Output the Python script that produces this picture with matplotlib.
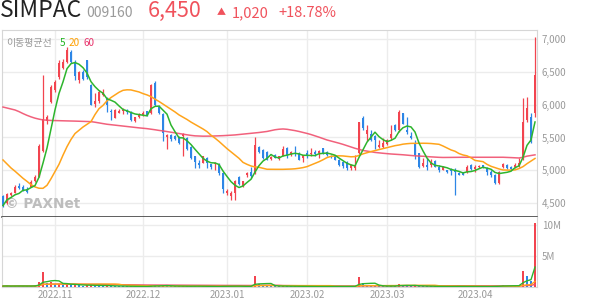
"""SIMPAC daily candles with moving averages and volume."""
import matplotlib
matplotlib.use('Agg')
import matplotlib.pyplot as plt
import numpy as np
import pandas as pd

plt.rcParams['font.family'] = ['Noto Sans CJK KR', 'DejaVu Sans']

# daily OHLC (won), Oct 13 2022 .. Apr 24 2023
opens = [4600, 4500, 4620, 4660, 4760, 4750, 4720, 4750, 4830, 4902,
         5300, 5750, 6048, 6226, 6430, 6560, 6660, 6800, 6640, 6380,
         6500, 6680, 6300, 6010, 6050, 6150, 6100, 5910, 5800, 5880,
         5900, 5920, 5890, 5745, 5810, 5850, 5900, 5870, 6330, 5970,
         5860, 5500, 5540, 5530, 5500, 5520, 5490, 5360, 5210, 5110,
         5115, 5190, 5095, 5090, 5100, 4965, 4655, 4600, 4660, 4900,
         4760, 4920, 4970, 4980, 5360, 5310, 5280, 5170, 5230, 5170,
         5220, 5335, 5230, 5270, 5270, 5180, 5270, 5250, 5285, 5270,
         5335, 5285, 5220, 5230, 5160, 5130, 5130, 5030, 5030, 5260,
         5790, 5560, 5560, 5520, 5350, 5360, 5400, 5490, 5690, 5615,
         5870, 5620, 5520, 5410, 5260, 5065, 5080, 5080, 5145, 5045,
         5010, 5000, 5020, 5005, 4960, 4960, 4980, 5080, 5014, 5045,
         5080, 5030, 4980, 4928, 4800, 5055, 5081, 5055, 5045, 5065,
         5182, 5768, 5808, 5870]
highs = [4620, 4660, 4670, 4780, 4800, 4770, 4750, 4850, 4920, 5400,
         6450, 5850, 6300, 6380, 6680, 6700, 6880, 6830, 6680, 6520,
         6530, 6690, 6320, 6180, 6220, 6240, 6120, 5940, 5930, 5930,
         5950, 5930, 5900, 5820, 5870, 5900, 5910, 6310, 6360, 6000,
         5870, 5560, 5560, 5540, 5520, 5570, 5500, 5370, 5220, 5150,
         5220, 5200, 5100, 5130, 5110, 4970, 4710, 4680, 4850, 4910,
         4840, 4980, 5050, 5500, 5370, 5320, 5290, 5210, 5250, 5220,
         5370, 5360, 5290, 5370, 5275, 5240, 5310, 5335, 5310, 5310,
         5340, 5290, 5230, 5240, 5170, 5140, 5140, 5090, 5230, 5740,
         5830, 5690, 5620, 5540, 5460, 5490, 5470, 5690, 5700, 5920,
         5880, 5810, 5590, 5460, 5270, 5180, 5180, 5165, 5150, 5080,
         5060, 5010, 5030, 5030, 4970, 4970, 5080, 5095, 5080, 5075,
         5085, 5055, 5000, 4940, 4990, 5116, 5090, 5060, 5116, 5182,
         6100, 6124, 5870, 7030]
lows = [4440, 4490, 4600, 4650, 4710, 4680, 4650, 4740, 4820, 4890,
        5280, 5700, 6020, 6200, 6400, 6540, 6640, 6640, 6380, 6330,
        6380, 6400, 5990, 5960, 6030, 6130, 5890, 5770, 5790, 5870,
        5860, 5860, 5750, 5740, 5800, 5830, 5830, 5860, 5980, 5860,
        5440, 5330, 5450, 5460, 5400, 5220, 5310, 5170, 5030, 5030,
        5110, 5030, 5015, 5000, 4930, 4650, 4620, 4540, 4550, 4780,
        4750, 4900, 4880, 4940, 5270, 5170, 5150, 5160, 5180, 5160,
        5210, 5180, 5220, 5220, 5150, 5130, 5180, 5220, 5220, 5180,
        5250, 5220, 5190, 5150, 5070, 5040, 5000, 5000, 5010, 5250,
        5620, 5440, 5440, 5330, 5335, 5335, 5390, 5460, 5600, 5590,
        5700, 5560, 5475, 5170, 5030, 5055, 5000, 5055, 5050, 4980,
        5000, 4960, 4930, 4620, 4920, 4920, 4965, 5005, 4980, 5040,
        5040, 4930, 4900, 4790, 4795, 5030, 5020, 5010, 5030, 5045,
        5157, 5742, 5410, 5810]
closes = [4460, 4640, 4650, 4750, 4730, 4700, 4670, 4825, 4900, 5371,
          5780, 5820, 6277, 6353, 6633, 6660, 6830, 6660, 6440, 6500,
          6400, 6420, 6000, 6060, 6200, 6200, 5990, 5890, 5920, 5910,
          5925, 5890, 5760, 5810, 5860, 5880, 5845, 6300, 5990, 5880,
          5570, 5540, 5470, 5480, 5420, 5560, 5320, 5180, 5120, 5080,
          5210, 5105, 5055, 5105, 4965, 4710, 4690, 4660, 4830, 4790,
          4830, 4955, 4905, 5380, 5280, 5180, 5160, 5200, 5190, 5210,
          5330, 5220, 5285, 5250, 5160, 5230, 5210, 5270, 5250, 5300,
          5260, 5230, 5200, 5160, 5080, 5060, 5030, 5080, 5080, 5730,
          5640, 5615, 5460, 5460, 5390, 5410, 5460, 5560, 5620, 5895,
          5710, 5590, 5490, 5235, 5055, 5106, 5045, 5115, 5055, 5004,
          5045, 4970, 4990, 4975, 4930, 4930, 5050, 5015, 5055, 5065,
          5045, 4980, 4930, 4811, 4980, 5090, 5030, 5014, 5081, 5116,
          5742, 5946, 5430, 6450]
# shares traded (thousands)
volumes = [150, 180, 120, 200, 150, 120, 110, 200, 250, 850,
           2400, 600, 850, 500, 550, 400, 450, 350, 380, 250,
           200, 300, 350, 250, 220, 180, 200, 170, 150, 120,
           110, 100, 120, 100, 90, 90, 80, 300, 250, 150,
           250, 180, 120, 100, 100, 150, 130, 150, 140, 100,
           90, 100, 80, 80, 100, 200, 120, 110, 150, 100,
           90, 90, 100, 1770, 450, 250, 200, 150, 120, 100,
           180, 150, 100, 110, 120, 90, 100, 90, 80, 90,
           100, 80, 70, 90, 110, 90, 100, 80, 120, 1660,
           700, 300, 200, 180, 150, 130, 120, 200, 150, 500,
           250, 200, 150, 200, 180, 120, 110, 100, 90, 100,
           80, 80, 90, 150, 90, 80, 110, 90, 80, 70,
           70, 90, 100, 150, 200, 250, 150, 120, 200, 350,
           2580, 1770, 1000, 10400]
volumes = [v * 1000 for v in volumes]

# 20 / 60 day averages as drawn (they reach back before the window)
ma20 = [5157, 5095, 5035, 4985, 4930, 4877, 4830, 4780, 4745, 4725,
        4724, 4770, 4870, 4980, 5090, 5230, 5360, 5470, 5560, 5610,
        5660, 5700, 5742, 5850, 5940, 5990, 6060, 6110, 6150, 6190,
        6220, 6228, 6226, 6210, 6195, 6170, 6150, 6124, 6085, 6050,
        6010, 5970, 5931, 5890, 5845, 5810, 5775, 5735, 5700, 5665,
        5630, 5590, 5535, 5490, 5440, 5385, 5330, 5280, 5230, 5182,
        5120, 5090, 5065, 5050, 5045, 5030, 5015, 5014, 5014, 5014,
        5014, 5016, 5018, 5022, 5030, 5040, 5055, 5080, 5105, 5130,
        5160, 5193, 5212, 5218, 5220, 5218, 5212, 5205, 5208, 5225,
        5250, 5268, 5285, 5300, 5315, 5330, 5345, 5360, 5375, 5385,
        5398, 5405, 5410, 5411, 5412, 5412, 5411, 5408, 5402, 5396,
        5370, 5340, 5310, 5290, 5255, 5233, 5220, 5190, 5150, 5140,
        5131, 5090, 5060, 5040, 5020, 5004, 5002, 5002, 5005, 5025,
        5055, 5100, 5140, 5180]
ma60 = [5965, 5950, 5935, 5920, 5895, 5865, 5838, 5815, 5795, 5780,
        5768, 5764, 5760, 5758, 5757, 5755, 5753, 5752, 5750, 5748,
        5747, 5745, 5742, 5733, 5722, 5712, 5702, 5695, 5688, 5680,
        5673, 5666, 5660, 5653, 5647, 5641, 5635, 5627, 5618, 5608,
        5600, 5590, 5580, 5570, 5560, 5550, 5541, 5532, 5525, 5522,
        5520, 5520, 5521, 5523, 5525, 5528, 5531, 5535, 5539, 5545,
        5550, 5556, 5562, 5568, 5576, 5584, 5592, 5605, 5618, 5626,
        5630, 5625, 5615, 5605, 5592, 5577, 5562, 5545, 5525, 5505,
        5483, 5462, 5446, 5430, 5413, 5395, 5375, 5355, 5335, 5318,
        5302, 5292, 5282, 5272, 5265, 5259, 5253, 5248, 5244, 5240,
        5236, 5230, 5225, 5220, 5217, 5213, 5208, 5204, 5200, 5197,
        5195, 5195, 5196, 5197, 5198, 5198, 5198, 5198, 5198, 5199,
        5199, 5199, 5199, 5199, 5198, 5198, 5196, 5193, 5190, 5187,
        5198, 5215, 5225, 5235]

month_labels = ['2022.11', '2022.12', '2023.01', '2023.02', '2023.03', '2023.04']
month_start = [13, 35, 56, 76, 96, 118]   # candle index of first trading day
price_ticks = [4500, 5000, 5500, 6000, 6500, 7000]
vol_ticks = [5e6, 10e6]
vol_tick_labels = ['5M', '10M']

RED = '#f2444f'
BLUE = '#2d86e6'
C5, C20, C60 = '#2db52d', '#ffa41b', '#f0506e'
GRID = '#ececec'
FRAME = '#d6d6d6'
LABEL = '#9a9a9a'

o = np.array(opens); h = np.array(highs); l = np.array(lows); c = np.array(closes)
x = np.arange(len(c))
up = c >= o
cols = np.where(up, RED, BLUE)
ma5 = pd.Series(c).rolling(5, min_periods=1).mean()

vol = pd.Series(volumes, dtype=float)
vcols = np.where(vol.diff().fillna(1) >= 0, RED, BLUE)

W, H = 594, 304
fig = plt.figure(figsize=(W / 100, H / 100), dpi=100)


def box(x0, y0, x1, y1):
    return [x0 / W, 1 - y1 / H, (x1 - x0) / W, (y1 - y0) / H]


ax = fig.add_axes(box(2, 30, 537, 217))
axv = fig.add_axes(box(2, 217, 537, 287), sharex=ax)

# price panel
ax.vlines(x, l, h, colors=cols, linewidth=0.9, zorder=3)
ax.bar(x, np.maximum(np.abs(c - o), 12), bottom=np.minimum(o, c), width=0.66,
       color=cols, linewidth=0, zorder=3)
ax.plot(x, ma60, color=C60, lw=1.1, alpha=0.9, zorder=4)
ax.plot(x, ma20, color=C20, lw=1.1, zorder=4)
ax.plot(x, ma5, color=C5, lw=1.1, zorder=4)

ax.set_xlim(-0.25, len(c) - 0.5)
ax.set_ylim(4286, 7141)
ax.set_yticks(price_ticks)
ax.set_yticklabels([f'{t:,}' for t in price_ticks])
ax.yaxis.tick_right()
ax.tick_params(axis='y', length=0, pad=3.5, labelsize=7, labelcolor=LABEL)
ax.tick_params(axis='x', length=0, labelbottom=False)
ax.set_xticks(month_start)
ax.grid(color=GRID, linewidth=1)
ax.set_axisbelow(True)
for s in ['top', 'left', 'right']:
    ax.spines[s].set_color(FRAME)
ax.spines['bottom'].set_color('#333333')
ax.spines['bottom'].set_linewidth(1.1)

ax.text(0.008, 0.955, '이동평균선', transform=ax.transAxes, fontsize=7.2,
        color=LABEL, va='top', ha='left')
ax.text(0.107, 0.955, '5', transform=ax.transAxes, fontsize=7.2, color='#22b522',
        va='top', ha='left')
ax.text(0.124, 0.955, '20', transform=ax.transAxes, fontsize=7.2, color='#ffa000',
        va='top', ha='left')
ax.text(0.152, 0.955, '60', transform=ax.transAxes, fontsize=7.2, color='#e8336b',
        va='top', ha='left')
ax.text(0.006, 0.03, '© PAXNet', transform=ax.transAxes, fontsize=9.8,
        fontweight='bold', color='#bdbdbd', va='bottom', ha='left', zorder=1,
        family=['DejaVu Sans'])

# volume panel
axv.bar(x, vol, width=0.7, color=vcols, linewidth=0, zorder=3)
axv.plot(x, vol.rolling(60, min_periods=1).mean(), color=C60, lw=1.0, zorder=4)
axv.plot(x, vol.rolling(20, min_periods=1).mean(), color=C20, lw=1.0, zorder=4)
axv.plot(x, vol.rolling(5, min_periods=1).mean(), color=C5, lw=1.0, zorder=4)
axv.set_ylim(0, 11.29e6)
axv.set_yticks(vol_ticks)
axv.set_yticklabels(vol_tick_labels)
axv.yaxis.tick_right()
axv.tick_params(axis='y', length=0, pad=3.5, labelsize=7, labelcolor=LABEL)
axv.set_xticks(month_start)
axv.set_xticklabels(month_labels)
axv.tick_params(axis='x', length=0, pad=2.5, labelsize=7, labelcolor=LABEL)
axv.grid(color=GRID, linewidth=1)
axv.set_axisbelow(True)
axv.spines['top'].set_visible(False)
for s in ['left', 'right', 'bottom']:
    axv.spines[s].set_color(FRAME)

# header
def ftext(px, py, s, **kw):
    fig.text(px / W, 1 - py / H, s, va='baseline', ha='left', **kw)


ftext(0, 17, 'SIMPAC', fontsize=16.5, color='#222222')
ftext(86, 17, '009160', fontsize=10, color='#9a9a9a')
ftext(148, 17, '6,450', fontsize=15.5, color='#f0525c')
ftext(217, 15, '▲', fontsize=6.5, color='#f0525c')
ftext(232, 17, '1,020', fontsize=10.5, color='#f0525c')
ftext(278, 17, '+18.78%', fontsize=10.5, color='#f0525c')

fig.savefig('out.png', dpi=100)
